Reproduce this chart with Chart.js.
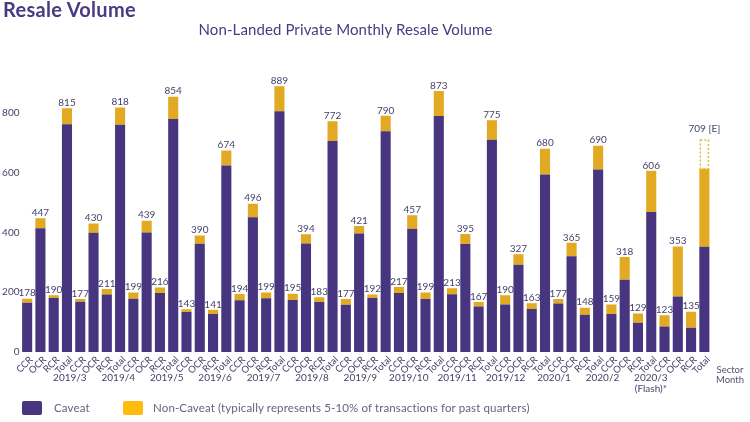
<!DOCTYPE html>
<html>
<head>
<meta charset="utf-8">
<script src="https://cdn.jsdelivr.net/npm/chart.js"></script>
<style>
  body { margin: 0; background: #fff; font-family: Lato, sans-serif; }
  #wrap { position: relative; width: 750px; height: 422px; overflow: hidden; }
  #wrap div { position: absolute; white-space: nowrap; }
  .heading { left: 3px; top: -3px; font-size: 20px; font-weight: 700; color: #4a3a82; letter-spacing: 0.3px; }
  .subtitle { left: 0; width: 691px; top: 20px; text-align: center; font-size: 15px; color: #4a3a82; letter-spacing: 0.1px; }
  .axis-name { left: 710px; width: 40px; top: 365px; text-align: center; font-size: 9.5px; line-height: 10px; color: #55516f; }
  .swatch { width: 20px; height: 14px; top: 401px; border-radius: 2px; }
  .legend-text { top: 401px; font-size: 11.5px; color: #66637c; letter-spacing: 0.13px; }
</style>
</head>
<body>
<div id="wrap">
  <canvas id="chart" width="750" height="422"></canvas>
  <div class="heading">Resale Volume</div>
  <div class="subtitle">Non-Landed Private Monthly Resale Volume</div>
  <div class="axis-name">Sector<br>Month</div>
  <div class="swatch" id="swatchCaveat" style="left:22px"></div>
  <div class="legend-text" style="left:54px">Caveat</div>
  <div class="swatch" id="swatchNon" style="left:123px"></div>
  <div class="legend-text" style="left:153px">Non-Caveat (typically represents 5-10% of transactions for past quarters)</div>
</div>
<script>
const sectors = ['CCR', 'OCR', 'RCR', 'Total'];
const months = ['2019/3', '2019/4', '2019/5', '2019/6', '2019/7', '2019/8', '2019/9',
    '2019/10', '2019/11', '2019/12', '2020/1', '2020/2', ['2020/3', '(Flash)*']];

// one entry per bar: CCR, OCR, RCR, Total for each month
const caveat = [
    165, 414, 181, 762,
    168, 399, 192, 760,
    178, 400, 197, 779,
    134, 362, 127, 624,
    173, 451, 180, 805,
    174, 363, 167, 706,
    158, 396, 181, 738,
    197, 412, 177, 789,
    193, 361, 152, 710,
    159, 292, 144, 594,
    162, 320, 125, 610,
    127, 242, 98, 468,
    85, 186, 81, 352
];
const nonCaveat = [
    13, 33, 9, 53,
    9, 31, 19, 58,
    21, 39, 19, 75,
    9, 28, 14, 50,
    21, 45, 19, 84,
    21, 31, 16, 66,
    19, 25, 11, 52,
    20, 45, 22, 84,
    20, 34, 15, 65,
    31, 35, 19, 86,
    15, 45, 23, 80,
    32, 76, 31, 138,
    38, 167, 54, 261
];
// dashed part on top of the last Total bar
const estimate = [];
estimate[51] = 96;

const barLabels = [
    '178', '447', '190', '815',
    '177', '430', '211', '818',
    '199', '439', '216', '854',
    '143', '390', '141', '674',
    '194', '496', '199', '889',
    '195', '394', '183', '772',
    '177', '421', '192', '790',
    '217', '457', '199', '873',
    '213', '395', '167', '775',
    '190', '327', '163', '680',
    '177', '365', '148', '690',
    '159', '318', '129', '606',
    '123', '353', '135', '709 [E]'
];

const purple = '#47367f';
const gold = '#e2a922';
const textColor = '#45426a';

document.getElementById('swatchCaveat').style.background = purple;
document.getElementById('swatchNon').style.background = '#fdbb0c';

const categories = [];
months.forEach(() => sectors.forEach(s => categories.push(s)));

// bar values on top of each stack, and the dashed outline (bars have no borderDash)
const barExtras = {
    id: 'barExtras',
    afterDatasetsDraw(chart) {
        const ctx = chart.ctx;
        const est = chart.getDatasetMeta(2).data[51];
        ctx.save();
        ctx.strokeStyle = '#e3c02e';
        ctx.lineWidth = 1.5;
        ctx.setLineDash([2, 2]);
        ctx.strokeRect(est.x - est.width / 2 + 1, est.y, est.width - 2, est.base - est.y);
        ctx.setLineDash([]);

        ctx.font = '10px Lato';
        ctx.fillStyle = textColor;
        ctx.textAlign = 'center';
        ctx.textBaseline = 'bottom';
        barLabels.forEach((label, i) => {
            const top = caveat[i] + nonCaveat[i] + (estimate[i] || 0);
            const y = chart.scales.y.getPixelForValue(top);
            ctx.fillText(label, chart.scales.x.getPixelForValue(i), y - (i === 51 ? 6 : 0.5));
        });
        ctx.restore();
    }
};

new Chart(document.getElementById('chart').getContext('2d'), {
    type: 'bar',
    data: {
        labels: categories,
        datasets: [
            { label: 'Caveat', data: caveat, backgroundColor: purple, stack: 's' },
            { label: 'Non-Caveat', data: nonCaveat, backgroundColor: gold, stack: 's' },
            { label: 'Estimate', data: estimate, backgroundColor: 'rgba(0,0,0,0)', stack: 's' }
        ]
    },
    options: {
        responsive: false,
        animation: false,
        barPercentage: 0.76,
        categoryPercentage: 1,
        layout: { padding: { top: 53, right: 39, bottom: 0, left: 0 } },
        plugins: { legend: { display: false }, tooltip: { enabled: false } },
        scales: {
            y: {
                stacked: true,
                min: 0,
                max: 1000,
                grid: { display: false, drawTicks: false },
                border: { display: false },
                afterFit: s => { s.width = 20.5; },
                afterBuildTicks: s => { s.ticks = s.ticks.filter(t => t.value <= 800); },
                ticks: {
                    stepSize: 200,
                    padding: 1,
                    color: textColor,
                    font: { family: 'Lato', size: 10 }
                }
            },
            x: {
                stacked: true,
                grid: { display: false, drawTicks: false },
                border: { display: false },
                afterFit: s => { s.height = 21; },
                ticks: {
                    autoSkip: false,
                    minRotation: 45,
                    maxRotation: 45,
                    padding: 2,
                    labelOffset: 4,
                    color: textColor,
                    font: { family: 'Lato', size: 9.5 }
                }
            },
            x2: {
                type: 'linear',
                position: 'bottom',
                min: -0.5,
                max: 51.5,
                grid: { display: false, drawTicks: false },
                border: { display: false },
                afterFit: s => { s.height = 49; },
                afterBuildTicks: s => { s.ticks = months.map((m, i) => ({ value: 1.36 + i * 3.95 })); },
                ticks: {
                    autoSkip: false,
                    maxRotation: 0,
                    padding: 0,
                    color: textColor,
                    font: { family: 'Lato', size: 10, lineHeight: 1.05 },
                    callback: (v, i) => months[i]
                }
            }
        }
    },
    plugins: [barExtras]
});
</script>
</body>
</html>
